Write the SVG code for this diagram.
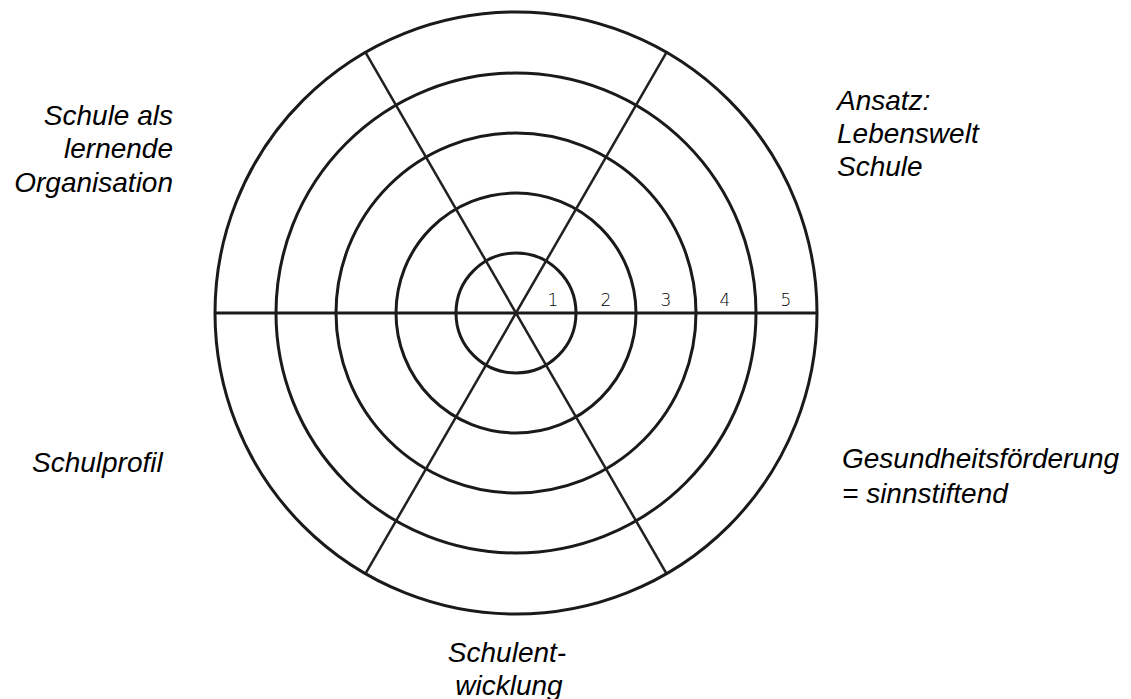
<svg xmlns="http://www.w3.org/2000/svg" width="1131" height="699" viewBox="0 0 1131 699">
<style>
.ring{fill:none;stroke:#1a1a1a;stroke-width:3}
.spoke{stroke:#231f20;stroke-width:2.5}
.axis{stroke:#1a1a1a;stroke-width:3}
.lbl{font-family:"Liberation Sans",Arial,sans-serif;font-style:italic;font-size:28px;fill:#000}
.num{font-family:"DejaVu Sans",sans-serif;font-weight:200;font-size:17px;fill:#000;text-anchor:middle}
</style>
<rect width="1131" height="699" fill="#fff"/>
<g id="rings">
<circle class="ring" cx="516" cy="313" r="60"/>
<circle class="ring" cx="516" cy="313" r="120"/>
<circle class="ring" cx="516" cy="313" r="180"/>
<circle class="ring" cx="516" cy="313" r="240"/>
<circle class="ring" cx="516" cy="313" r="301"/>
</g>
<g id="connectors">
<line class="axis" x1="215" y1="313" x2="817" y2="313"/>
<line class="spoke" x1="365.5" y1="52.3" x2="666.5" y2="573.7"/>
<line class="spoke" x1="666.5" y1="52.3" x2="365.5" y2="573.7"/>
</g>
<g id="scale">
<text class="num" x="553" y="306">1</text>
<text class="num" x="606" y="306">2</text>
<text class="num" x="666" y="306">3</text>
<text class="num" x="725" y="306">4</text>
<text class="num" x="786" y="306">5</text>
</g>
<g id="label-schule-org">
<text class="lbl" text-anchor="end" x="173" y="125">Schule als</text>
<text class="lbl" text-anchor="end" x="173" y="158">lernende</text>
<text class="lbl" text-anchor="end" x="173" y="192">Organisation</text>
</g>
<g id="label-ansatz">
<text class="lbl" x="837" y="110">Ansatz:</text>
<text class="lbl" x="837" y="143">Lebenswelt</text>
<text class="lbl" x="837" y="176">Schule</text>
</g>
<g id="label-schulprofil">
<text class="lbl" x="32" y="472">Schulprofil</text>
</g>
<g id="label-gesundheit">
<text class="lbl" x="842" y="468">Gesundheitsförderung</text>
<text class="lbl" x="842" y="503">= sinnstiftend</text>
</g>
<g id="label-schulentwicklung">
<text class="lbl" text-anchor="middle" x="507" y="662">Schulent-</text>
<text class="lbl" text-anchor="middle" x="509" y="695">wicklung</text>
</g>
</svg>
